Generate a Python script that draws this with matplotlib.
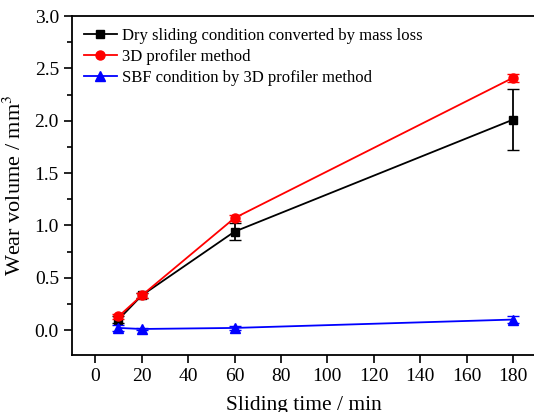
import matplotlib
matplotlib.use("Agg")
import matplotlib.pyplot as plt
from matplotlib.ticker import MultipleLocator

plt.rcParams['font.family'] = ['Liberation Serif', 'DejaVu Serif']
plt.rcParams['mathtext.fontset'] = 'stix'

# sliding time (min)
time = [10, 20, 60, 180]

# dry sliding, converted by mass loss
dry = [0.10, 0.33, 0.94, 2.01]
dry_err = [0.03, 0.02, 0.08, 0.29]

# 3D profiler method
prof = [0.13, 0.33, 1.07, 2.41]
prof_err = [0.02, 0.02, 0.03, 0.04]

# SBF condition by 3D profiler
sbf = [0.02, 0.01, 0.02, 0.10]
sbf_err = [0.03, 0.01, 0.02, 0.03]

fig = plt.figure(figsize=(5.34, 4.12), dpi=100)
ax = fig.add_axes([0.135, 0.138, 0.869, 0.823])

series = [
    (dry, dry_err, 'black', 's', 6, 'Dry sliding condition converted by mass loss'),
    (prof, prof_err, 'red', 'o', 6.5, '3D profiler method'),
    (sbf, sbf_err, 'blue', '^', 7, 'SBF condition by 3D profiler method'),
]
for vals, err, c, m, ms, lab in series:
    ax.errorbar(time, vals, yerr=err, fmt='none', ecolor=c, capsize=4, elinewidth=1.3)
    ax.plot(time, vals, color=c, marker=m, ms=ms, lw=1.3, label=lab)

ax.set_xlim(-10, 190)
ax.set_ylim(-0.24, 3.0)
ax.set_xticks(range(0, 181, 20))
ax.yaxis.set_major_locator(MultipleLocator(0.5))
ax.yaxis.set_minor_locator(MultipleLocator(0.25))
ax.yaxis.set_major_formatter(plt.FormatStrFormatter('%.1f'))

ax.tick_params(axis='both', which='major', direction='out', length=6, width=1.2, labelsize=14)
ax.tick_params(axis='y', which='minor', direction='out', length=3.5, width=1.2)
for s in ax.spines.values():
    s.set_linewidth(1.3)

ax.set_xlabel('Sliding time / min', fontsize=15.5, labelpad=8)
ax.set_ylabel('Wear volume / mm$^3$', fontsize=16, labelpad=6)

ax.legend(loc='upper left', frameon=False, fontsize=12, handlelength=2.0,
          handletextpad=0.3, labelspacing=0.3, borderaxespad=0.3,
          bbox_to_anchor=(0.0, 1.0))

fig.savefig('out.png', dpi=100)
